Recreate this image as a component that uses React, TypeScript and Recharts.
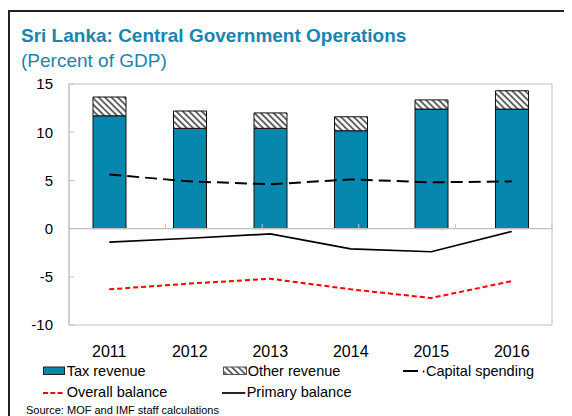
import React from 'react';
import { ComposedChart, Bar, Line, XAxis, YAxis, ReferenceLine, ReferenceArea } from 'recharts';

const years = ['2011', '2012', '2013', '2014', '2015', '2016'];
const taxRevenue = [11.7, 10.4, 10.4, 10.15, 12.4, 12.4];
const otherRevenue = [1.95, 1.8, 1.6, 1.45, 0.95, 1.9];
const capitalSpending = [5.6, 4.9, 4.6, 5.1, 4.8, 4.9];
const overallBalance = [-6.3, -5.7, -5.2, -6.3, -7.2, -5.45];
const primaryBalance = [-1.4, -1.0, -0.55, -2.1, -2.4, -0.3];
const yTicks = [-10, -5, 0, 5, 10, 15];
const categoryEdges = [1, 2, 3, 4, 5];

const data = years.map((year, i) => ({
    year,
    tax: taxRevenue[i],
    other: otherRevenue[i],
    capital: capitalSpending[i],
    overall: overallBalance[i],
    primary: primaryBalance[i],
}));

const FONT = '"Liberation Sans", Arial, sans-serif';
const TEAL = '#0688ae';
const TITLE = '#1a84b0';
const GRID = '#c0c0c0';

const legendText: React.CSSProperties = { fontSize: 14.5, lineHeight: 1, color: '#000', whiteSpace: 'nowrap' };

function LegendItem({ left, top, marker, label }: { left: number; top: number; marker: React.ReactNode; label: string }) {
    return (
        <div style={{ position: 'absolute', left, top, height: 20, display: 'flex', alignItems: 'center' }}>
            {marker}
            <span style={legendText}>{label}</span>
        </div>
    );
}

export default function App() {
    return (
        <div style={{ position: 'relative', width: 564, height: 408, fontFamily: FONT, overflow: 'hidden' }}>
            <div style={{ position: 'absolute', left: 0, top: 2, width: 700, height: 600, borderLeft: '2px solid #222', borderTop: '2px solid #222' }} />
            <div style={{ position: 'absolute', left: 13, top: 17.6, fontSize: 19, lineHeight: 1, fontWeight: 700, color: TITLE, whiteSpace: 'nowrap' }}>
                Sri Lanka: Central Government Operations
            </div>
            <div style={{ position: 'absolute', left: 13, top: 42.6, fontSize: 19, lineHeight: 1, color: TITLE, whiteSpace: 'nowrap' }}>
                (Percent of GDP)
            </div>

            <div style={{ position: 'absolute', left: 0, top: 0 }}>
                <ComposedChart width={564} height={360} data={data} margin={{ top: 76, right: 20, left: 21, bottom: 13 }}>
                    <defs>
                        <pattern id="hatch" patternUnits="userSpaceOnUse" width="4.5" height="4.5" patternTransform="rotate(-45)">
                            <rect width="4.5" height="4.5" fill="#fff" />
                            <line x1="1" y1="0" x2="1" y2="4.5" stroke="#555" strokeWidth="1.8" />
                        </pattern>
                    </defs>
                    <XAxis
                        dataKey="year"
                        axisLine={false}
                        tickLine={false}
                        tickSize={0}
                        tickMargin={21}
                        height={30}
                        tick={{ fill: '#000', fontSize: 16, fontFamily: FONT }}
                    />
                    <XAxis xAxisId="n" type="number" domain={[0, 6]} hide />
                    <YAxis
                        domain={[-10, 15]}
                        ticks={yTicks}
                        width={40}
                        axisLine={{ stroke: GRID }}
                        tickLine={{ stroke: GRID }}
                        tickSize={-5}
                        tickMargin={21}
                        tick={{ fill: '#000', fontSize: 15, fontFamily: FONT }}
                    />
                    <ReferenceArea y1={-10} y2={15} fill="none" stroke={GRID} strokeWidth={1} />
                    <ReferenceLine y={0} stroke={GRID} strokeWidth={1.2} />
                    {categoryEdges.map((e) => (
                        <ReferenceLine
                            key={e}
                            xAxisId="n"
                            segment={[{ x: e, y: 0 }, { x: e, y: 0.5 }]}
                            stroke={GRID}
                        />
                    ))}
                    <Bar dataKey="tax" stackId="rev" fill={TEAL} stroke="#111" strokeWidth={1} barSize={33} isAnimationActive={false} />
                    <Bar dataKey="other" stackId="rev" fill="url(#hatch)" stroke="#111" strokeWidth={1} barSize={33} isAnimationActive={false} />
                    <Line dataKey="capital" stroke="#000" strokeWidth={2} strokeDasharray="12 6" dot={false} isAnimationActive={false} />
                    <Line dataKey="primary" stroke="#000" strokeWidth={1.7} dot={false} isAnimationActive={false} />
                    <Line dataKey="overall" stroke="#ff0000" strokeWidth={2} strokeDasharray="5 3" dot={false} isAnimationActive={false} />
                </ComposedChart>
            </div>

            <LegendItem
                left={34.7}
                top={353.3}
                label="Tax revenue"
                marker={
                    <svg width={24} height={10} style={{ display: 'block' }}>
                        <rect x={0.5} y={1} width={21} height={7.5} fill={TEAL} stroke="#222" strokeWidth={1} />
                    </svg>
                }
            />
            <LegendItem
                left={214.7}
                top={353.3}
                label="Other revenue"
                marker={
                    <svg width={25} height={10} style={{ display: 'block' }}>
                        <rect x={0.5} y={1} width={23} height={7.5} fill="url(#hatch)" stroke="#555" strokeWidth={1} />
                    </svg>
                }
            />
            <LegendItem
                left={394.7}
                top={353.3}
                label="Capital spending"
                marker={
                    <svg width={23.3} height={10} style={{ display: 'block' }}>
                        <line x1={0} y1={5} x2={15} y2={5} stroke="#000" strokeWidth={2} />
                        <circle cx={20.6} cy={5.5} r={0.9} fill="#000" />
                    </svg>
                }
            />
            <LegendItem
                left={34.7}
                top={374.5}
                label="Overall balance"
                marker={
                    <svg width={24} height={10} style={{ display: 'block' }}>
                        <line x1={0} y1={5} x2={19.6} y2={5} stroke="#ff0000" strokeWidth={2} strokeDasharray="5 2.3" />
                    </svg>
                }
            />
            <LegendItem
                left={213.7}
                top={374.5}
                label="Primary balance"
                marker={
                    <svg width={25} height={10} style={{ display: 'block' }}>
                        <line x1={0} y1={5} x2={23.3} y2={5} stroke="#000" strokeWidth={1.7} />
                    </svg>
                }
            />

            <div style={{ position: 'absolute', left: 18, top: 395.5, fontSize: 11, lineHeight: 1.1, color: '#000', whiteSpace: 'nowrap' }}>
                Source: MOF and IMF staff calculations
            </div>
        </div>
    );
}
